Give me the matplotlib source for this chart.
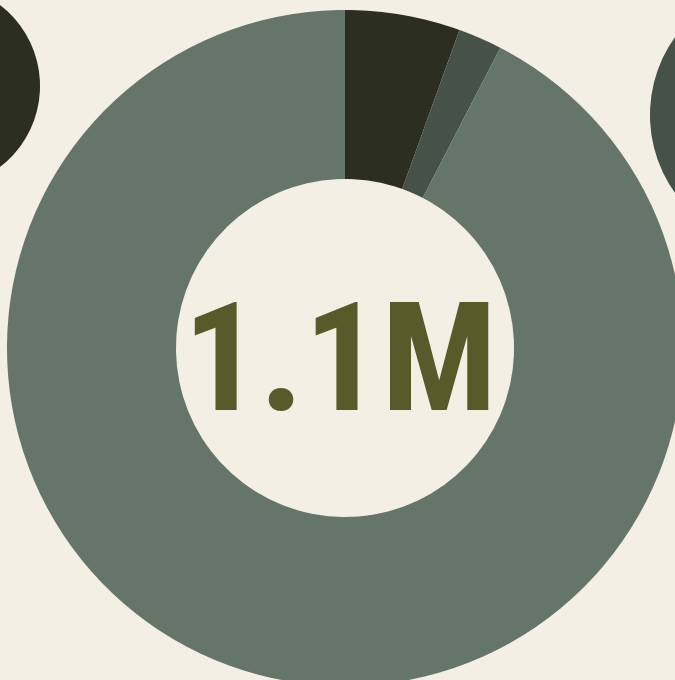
import matplotlib
matplotlib.use("Agg")
import matplotlib.pyplot as plt
from matplotlib.patches import Circle

# donut shares (clockwise from 12 o'clock)
labels = ["A", "B", "C"]
shares = [5.5, 2.1, 92.4]
colors = ["#2c2e22", "#465147", "#667569"]
total_label = "1.1M"

bg = "#f3efe5"

fig = plt.figure(figsize=(6.75, 6.8), dpi=100, facecolor=bg)
ax = fig.add_axes([0, 0, 1, 1])
ax.set_facecolor(bg)

# neighbouring pies peeking in at the edges
ax.add_patch(Circle((-62, 594), 102, color="#2c2e22", lw=0))
ax.add_patch(Circle((784, 565), 134, color="#465147", lw=0))

ax.pie(shares, colors=colors, startangle=90, counterclock=False,
       radius=338, center=(345, 332),
       wedgeprops=dict(width=169, linewidth=0))

ax.text(340, 270, total_label, ha="center", va="baseline",
        fontsize=110, fontweight="bold", color="#5a5929",
        fontstretch="condensed",
        family=["Roboto Condensed", "Open Sans Condensed",
                "DejaVu Sans Condensed", "Roboto", "DejaVu Sans"])

ax.set_xlim(0, 675)
ax.set_ylim(0, 680)
ax.set_aspect("equal")
ax.set_axis_off()

fig.savefig("out.png", dpi=100, facecolor=bg)
